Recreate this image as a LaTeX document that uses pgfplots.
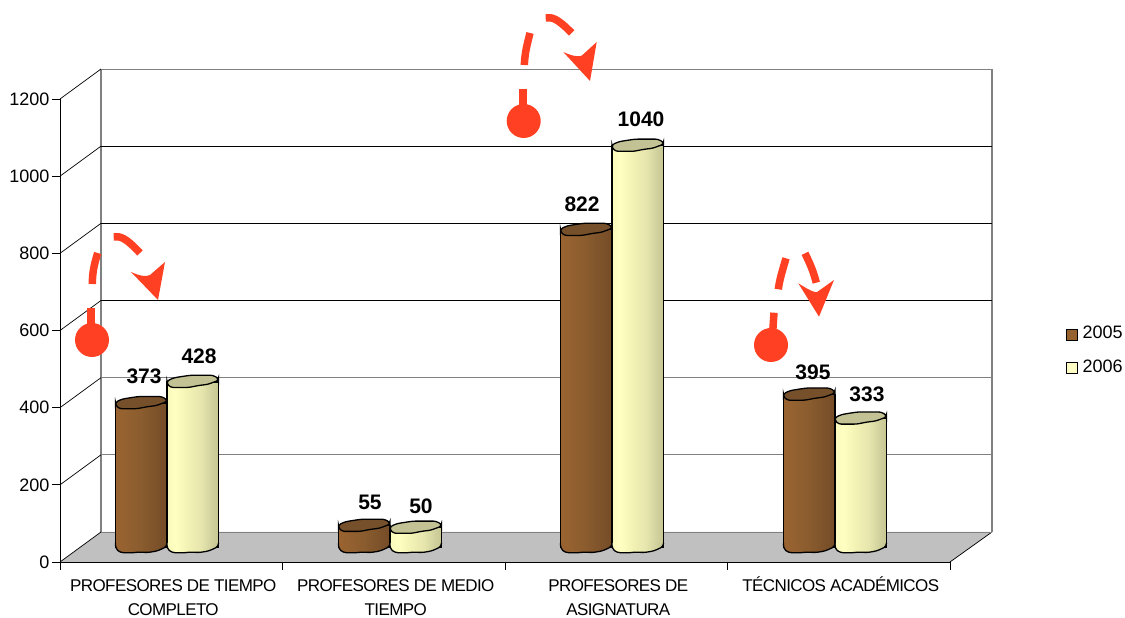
\documentclass[border=0pt]{standalone}
\usepackage{fontspec}
\setmainfont{Liberation Sans}
\usepackage{pgfplots}
\usepackage{pgfplotstable}
\pgfplotsset{compat=1.18}

% 1 px of the reference = 1 pt here
\definecolor{cafe}{HTML}{96632F}
\definecolor{cafetop}{HTML}{76502A}
\definecolor{crema}{HTML}{FFFFC6}
\definecolor{crematop}{HTML}{C2C295}
\definecolor{rojo}{HTML}{FF4022}
\definecolor{piso}{HTML}{C0C0C0}

\pgfdeclarehorizontalshading{cafebands}{100bp}{
  rgb(0bp)=(0.60,0.39,0.19); rgb(25bp)=(0.60,0.39,0.19);
  rgb(35bp)=(0.58,0.38,0.19); rgb(50bp)=(0.54,0.36,0.18);
  rgb(62bp)=(0.50,0.33,0.17); rgb(70bp)=(0.47,0.31,0.16);
  rgb(75bp)=(0.46,0.30,0.15); rgb(100bp)=(0.46,0.30,0.15)}
\pgfdeclarehorizontalshading{cremabands}{100bp}{
  rgb(0bp)=(1,1,0.76); rgb(25bp)=(0.98,0.98,0.74);
  rgb(33bp)=(1,1,0.76); rgb(45bp)=(0.95,0.95,0.71);
  rgb(58bp)=(0.90,0.90,0.68); rgb(68bp)=(0.82,0.82,0.62);
  rgb(75bp)=(0.78,0.78,0.58); rgb(100bp)=(0.78,0.78,0.58)}

% wavy cylinder caps
\def\capshape{(-25.7,1) -- (-19,4) -- (-10,5.5) -- (-2,6.6) -- (20,6.6) -- (25.7,3.5) -- (25.7,1.5)
  -- (15,-2.5) -- (6,-3.6) -- (-4,-5.6) -- (-22,-5.6) -- (-25.7,-2) -- cycle}
\pgfdeclareplotmark{captopa}{\draw[x=1pt,y=1pt,black,line width=1.3pt,fill=cafetop,rounded corners=2.5pt] \capshape;}
\pgfdeclareplotmark{captopb}{\draw[x=1pt,y=1pt,black,line width=1.3pt,fill=crematop,rounded corners=2.5pt] \capshape;}
\def\capbase#1{%
  \path[x=1pt,y=1pt,draw=none,shading=#1]
    (-25.05,4) -- (25.05,4) -- (25.05,0.5) -- (16,-4) -- (6,-5.6) -- (-2,-5) -- (-8,-5.8) -- (-21,-5.6) -- (-25.05,-1.5) -- cycle;
  \draw[x=1pt,y=1pt,black,line width=1.3pt,rounded corners=3pt]
    (-25.7,4) -- (-25.7,-1.5) -- (-21,-5.6) -- (-8,-5.8) -- (-2,-5) -- (6,-5.6) -- (16,-4) -- (25.7,0.5) -- (25.7,4);}
\pgfdeclareplotmark{capbasea}{\capbase{cafebands}}
\pgfdeclareplotmark{capbaseb}{\capbase{cremabands}}

% x: centre of each pair of cylinders; dx,dy: label offsets
\pgfplotstableread{
x     a2005 a2006 base dxa dya dxb dyb
0.481 373   428   0    -23 42  32  41
1.483 55    50    0    -20 38  31  36
2.481 822   1040  0    -30 41  29  41
3.483 395   333   0    -22 37  32  39.5
}\datos

\newcommand{\px}[2]{(#1pt,{618pt-#2pt})}

\begin{document}
\begin{tikzpicture}
\useasboundingbox (0,0) rectangle (1125pt,618pt);
\begin{axis}[
    at={(60pt,56pt)}, anchor=south west,
    scale only axis,
    width=890pt, height=463pt,
    xmin=0, xmax=4,
    ymin=0, ymax=1200,
    clip=false,
    axis x line*=bottom,
    axis y line*=left,
    axis line style={black,line width=0.9pt,-},
    tick align=outside,
    major tick length=8pt,
    tick style={black,line width=0.8pt},
    ytick={0,200,...,1200},
    ytick pos=left,
    xtick={0,1,2,3,4},
    xticklabels={},
    xtick pos=bottom,
    extra x ticks={0.5,1.5,2.5,3.5},
    extra x tick labels={{\strut PROFESORES DE TIEMPO\\COMPLETO},{\strut PROFESORES DE MEDIO\\TIEMPO},{\strut PROFESORES DE\\ASIGNATURA},{\strut TÉCNICOS ACADÉMICOS}},
    extra x tick style={major tick length=0pt,tick style={draw=none}},
    yticklabel style={font=\fontsize{18}{22}\selectfont,xshift=1pt},
    xticklabel style={align=center,text depth=0pt,inner sep=0pt,yshift=-13pt,xshift=2pt,
      font=\fontsize{17}{24}\selectfont\addfontfeatures{LetterSpace=-3.5}},
    /pgf/number format/assume math mode=true,
    /pgf/number format/1000 sep={},
    swatch/.style={legend image code/.code={\draw[black,line width=1.2pt,fill=#1] (0pt,-7pt) rectangle (11pt,4pt); \path (14pt,0pt);}},
    legend style={at={(1.1265,0.458)},anchor=west,draw=none,fill=none,
      font=\fontsize{18}{22}\selectfont,row sep=15pt,
      /tikz/every even column/.append style={column sep=4.5pt}},
    legend cell align=left,
]
% floor and back wall
\fill[piso] (axis cs:0,0) -- ++(41pt,30pt) -- ++(891pt,0pt) -- (axis cs:4,0) -- cycle;
\draw[black,line width=0.7pt] (axis cs:4,0) -- ++(42pt,30pt);
\draw[gray,line width=1.2pt] (axis cs:0,0) ++(41pt,30pt) -- ++(0pt,463pt);
\draw[gray,line width=1.2pt] (axis cs:4,0) ++(42pt,30pt) -- ++(0pt,463pt);
\foreach \v/\c in {0/gray,200/gray,400/gray,600/black,800/black,1000/black,1200/gray}{
  \edef\tmp{\noexpand\draw[\c,line width=0.9pt] (axis cs:0,\v) ++(41pt,30pt) -- ++(891pt,0pt);}\tmp
  \edef\tmp{\noexpand\draw[black,line width=0.7pt] (axis cs:0,\v) -- ++(41pt,30pt);}\tmp
}

% one plot per cylinder, so that each has its own shading
\pgfplotsset{
  cil/.style={forget plot,ybar,bar width=51.5pt,bar shift=0pt,yshift=15pt,draw=black,line width=1.3pt},
  cap/.style={forget plot,only marks,yshift=15pt},
}
\pgfplotsinvokeforeach{0,1,2,3}{
  \addplot[cil,xshift=-25.75pt,shading=cafebands,
    skip coords between index={0}{#1},skip coords between index={\the\numexpr#1+1\relax}{9}]
    table[x=x,y=a2005] {\datos};
}
\addplot[cap,mark=capbasea,xshift=-25.75pt] table[x=x,y=base] {\datos};
\addplot[cap,mark=captopa,xshift=-25.75pt] table[x=x,y=a2005] {\datos};
\pgfplotsinvokeforeach{0,1,2,3}{
  \addplot[cil,xshift=25.75pt,shading=cremabands,
    skip coords between index={0}{#1},skip coords between index={\the\numexpr#1+1\relax}{9}]
    table[x=x,y=a2006] {\datos};
}
\addplot[cap,mark=capbaseb,xshift=25.75pt] table[x=x,y=base] {\datos};
\addplot[cap,mark=captopb,xshift=25.75pt] table[x=x,y=a2006] {\datos};

% value labels
\addplot[forget plot,draw=none,mark=none,point meta=y,
  visualization depends on={\thisrow{dxa} \as \dx},
  visualization depends on={\thisrow{dya} \as \dy},
  nodes near coords={\pgfmathprintnumber{\pgfplotspointmeta}},
  every node near coord/.style={anchor=center,inner sep=0pt,font=\fontsize{21}{24}\selectfont\bfseries,xshift=\dx pt,yshift=\dy pt}]
  table[x=x,y=a2005] {\datos};
\addplot[forget plot,draw=none,mark=none,point meta=y,
  visualization depends on={\thisrow{dxb} \as \dx},
  visualization depends on={\thisrow{dyb} \as \dy},
  nodes near coords={\pgfmathprintnumber{\pgfplotspointmeta}},
  every node near coord/.style={anchor=center,inner sep=0pt,font=\fontsize{21}{24}\selectfont\bfseries,xshift=\dx pt,yshift=\dy pt}]
  table[x=x,y=a2006] {\datos};

\addlegendimage{swatch=cafe}
\addlegendentry{2005}
\addlegendimage{swatch=crema}
\addlegendentry{2006}
\end{axis}

% red hand-drawn marks
\begin{scope}[rojo,line width=7.5pt]
  \fill \px{92}{340} circle (17pt);
  \draw \px{91}{308} -- \px{91}{327};
  \draw \px{92.3}{284} .. controls \px{92.5}{272} and \px{94}{265} .. \px{97.7}{253};
  \draw \px{113.7}{237} .. controls \px{120}{236} and \px{125}{237} .. \px{140}{253};
  \fill \px{158}{300} -- \px{131}{272} .. controls \px{140}{276} and \px{146}{277} .. \px{150}{275} -- \px{165}{262} -- cycle;

  \fill \px{523.7}{121} circle (17pt);
  \draw \px{523}{89} -- \px{523}{107};
  \draw \px{524.3}{65} .. controls \px{525}{52} and \px{527}{45} .. \px{530}{33};
  \draw \px{545.7}{18} .. controls \px{552}{17} and \px{557}{18} .. \px{571.7}{33};
  \fill \px{590}{81} -- \px{563.3}{52} .. controls \px{572}{56} and \px{578}{57} .. \px{581.7}{55.7} -- \px{596.7}{42} -- cycle;

  \fill \px{771}{345} circle (17pt);
  \draw \px{774}{312.7} -- \px{772.7}{332};
  \draw \px{778.3}{289.3} .. controls \px{779.5}{280} and \px{782}{272} .. \px{786}{258.3};
  \draw \px{805}{253.3} .. controls \px{810}{264} and \px{813}{270} .. \px{816.3}{282.7};
  \fill \px{819}{316.7} -- \px{798.3}{283.3} .. controls \px{806}{288} and \px{812}{292} .. \px{816.7}{292.3} -- \px{834}{280} -- cycle;
\end{scope}
\end{tikzpicture}
\end{document}
